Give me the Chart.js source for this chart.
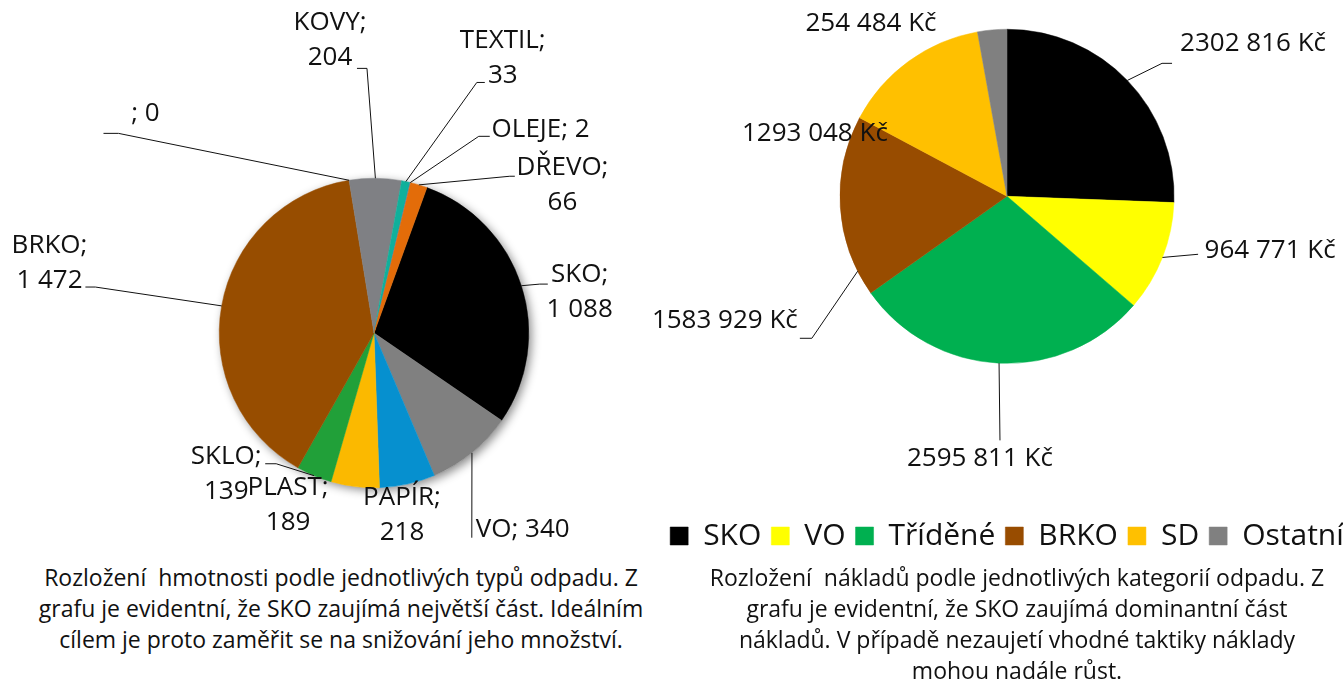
<!DOCTYPE html>
<html>
<head>
<meta charset="utf-8">
<script src="https://cdn.jsdelivr.net/npm/chart.js@4.4.0/dist/chart.umd.min.js"></script>
<style>
body { margin: 0; background: #fff; width: 1343px; height: 684px; position: relative; overflow: hidden; font-family: "Open Sans", sans-serif; }
#type-graph { position: absolute; left: 0; top: 0; }
#cost-graph { position: absolute; left: 640px; top: 0; }
.caption { position: absolute; top: 562px; white-space: pre; text-align: center; font-size: 23px; line-height: 31px; color: #111; }
</style>
</head>
<body>
<canvas id="type-graph" width="660" height="560"></canvas>
<canvas id="cost-graph" width="734" height="561"></canvas>
<div class="caption" style="left:11px; width:660px;">Rozložení  hmotnosti podle jednotlivých typů odpadu. Z
grafu je evidentní, že SKO zaujímá největší část. Ideálním
cílem je proto zaměřit se na snižování jeho množství.</div>
<div class="caption" style="left:677px; width:680px;">Rozložení  nákladů podle jednotlivých kategorií odpadu. Z
grafu je evidentní, že SKO zaujímá dominantní část
nákladů. V případě nezaujetí vhodné taktiky náklady
mohou nadále růst.</div>
<script>
// hmotnost podle typu odpadu
var typeLabels = ['SKO', 'VO', 'PAPÍR', 'PLAST', 'SKLO', 'BRKO', '', 'KOVY', 'TEXTIL', 'OLEJE', 'DŘEVO'];
var typeWeights = [1088, 340, 218, 189, 139, 1472, 0, 204, 33, 2, 66];
var typeColors = ['#000000', '#808080', '#0690cf', '#fbb900', '#21a039', '#974d00', '#cccccc', '#7f8084', '#10b09b', '#4f81bd', '#e36c09'];

// naklady podle kategorie
var costLabels = ['SKO', 'VO', 'Tříděné', 'BRKO', 'SD', 'Ostatní'];
var costValues = [2302816, 964771, 2595811, 1583929, 1293048, 254484];
var costColors = ['#000000', '#ffff00', '#00b050', '#984c00', '#ffc000', '#808080'];

// label placement in pie radii from centre: [x, y, lines, leader end x, leader end y, tail px, leader turn deg]
var typeLabelPlace = [
	[1.329, -0.265, 2, 1.123, -0.316, -8, 0],
	[0.961, 1.271, 1, 0.632, 1.323, 0, 0],
	[0.181, 1.174, 2],
	[-0.555, 1.110, 2],
	[-0.955, 0.910, 2, -0.703, 0.845, 11, 0],
	[-2.097, -0.452, 2, -1.865, -0.297, 10, 0],
	[-1.477, -1.419, 1, -1.748, -1.290, 15, 0],
	[-0.284, -1.890, 2, -0.110, -1.710, 10, 0],
	[0.832, -1.774, 2, 0.716, -1.619, -8, 0],
	[1.077, -1.316, 1, 0.748, -1.271, -11, 0],
	[1.218, -0.955, 2, 0.910, -1.013, -5, 0]
];
var costLabelPlace = [
	[1.473, -0.916, 1, 0.988, -0.796, -10, 0],
	[1.575, 0.323, 1, 1.144, 0.347, 0, 0],
	[-0.162, 1.569, 1, -0.042, 1.461, 0, 0],
	[-1.689, 0.743, 1, -1.240, 0.850, 12, -23],
	[-1.150, -0.377, 1],
	[-0.814, -1.036, 1]
];

Chart.defaults.font.family = '"Open Sans", sans-serif';
Chart.defaults.color = '#111';

function groupNumber(v)
{
	return String(v).replace(/\B(?=(\d{3})+(?!\d))/g, ' ');
}

function costText(v)
{
	// format ze zdroje: jen posledni trojice oddelena
	var rest = String(v % 1000);
	while (rest.length < 3) rest = '0' + rest;
	return Math.floor(v / 1000) + ' ' + rest + ' Kč';
}

function makeLabelPlugin(texts, place, shadow)
{
	return {
		id: 'sliceLabels',
		beforeDatasetsDraw: function(chart) {
			if (!shadow) return;
			var p = chart.getDatasetMeta(0).data[0].getProps(['x', 'y', 'outerRadius'], true);
			var ctx = chart.ctx;
			ctx.save();
			ctx.shadowColor = 'rgba(0,0,0,0.45)';
			ctx.shadowBlur = 10;
			ctx.shadowOffsetX = 3;
			ctx.shadowOffsetY = 3;
			ctx.fillStyle = '#ffffff';
			ctx.beginPath();
			ctx.arc(p.x, p.y, p.outerRadius, 0, Math.PI * 2);
			ctx.fill();
			ctx.restore();
		},
		afterDatasetsDraw: function(chart) {
			var ctx = chart.ctx;
			ctx.save();
			ctx.font = '26px "Open Sans"';
			ctx.fillStyle = '#111';
			ctx.strokeStyle = '#111';
			ctx.lineWidth = 1;
			ctx.textAlign = 'center';
			ctx.textBaseline = 'middle';
			chart.getDatasetMeta(0).data.forEach(function(arc, i) {
				var p = arc.getProps(['x', 'y', 'startAngle', 'endAngle', 'outerRadius'], true);
				var r = p.outerRadius;
				var pl = place[i];
				if (pl.length > 3) {
					var mid = (p.startAngle + p.endAngle) / 2 + pl[6] * Math.PI / 180;
					var ex = p.x + pl[3] * r;
					var ey = p.y + pl[4] * r;
					ctx.beginPath();
					ctx.moveTo(ex, ey);
					ctx.lineTo(ex + pl[5], ey);
					ctx.lineTo(p.x + Math.cos(mid) * r, p.y + Math.sin(mid) * r);
					ctx.stroke();
				}
				var lines = texts[i];
				var lx = p.x + pl[0] * r;
				var ly = p.y + pl[1] * r - (lines.length - 1) * 17.5;
				lines.forEach(function(t, k) {
					ctx.fillText(t, lx, ly + k * 35);
				});
			});
			ctx.restore();
		}
	};
}

var typeTexts = typeLabels.map(function(name, i) {
	if (typeLabelPlace[i][2] == 2) return [name + ';', groupNumber(typeWeights[i])];
	return [name + '; ' + groupNumber(typeWeights[i])];
});
var costTexts = costValues.map(function(v) { return [costText(v)]; });

new Chart(document.getElementById('type-graph').getContext('2d'), {
	type: 'pie',
	data: {
		labels: typeLabels,
		datasets: [{
			data: typeWeights,
			backgroundColor: typeColors,
			borderColor: typeColors,
			borderWidth: 0.5
		}]
	},
	options: {
		responsive: false,
		animation: false,
		rotation: 20,
		layout: { padding: { left: 88, right: 0, top: 178, bottom: 72 } },
		plugins: {
			legend: { display: false },
			tooltip: { enabled: false }
		}
	},
	plugins: [makeLabelPlugin(typeTexts, typeLabelPlace, true)]
});

new Chart(document.getElementById('cost-graph').getContext('2d'), {
	type: 'pie',
	data: {
		labels: costLabels,
		datasets: [{
			data: costValues,
			backgroundColor: costColors,
			borderColor: costColors,
			borderWidth: 0.5
		}]
	},
	options: {
		responsive: false,
		animation: false,
		layout: { padding: { left: 0, right: 0, top: 29, bottom: 0 } },
		plugins: {
			legend: {
				position: 'bottom',
				title: { display: true, text: '', padding: { top: 133, bottom: 0 } },
				labels: {
					font: { size: 30 },
					color: '#111',
					boxWidth: 18,
					boxHeight: 18,
					padding: 10
				}
			},
			tooltip: { enabled: false }
		}
	},
	plugins: [makeLabelPlugin(costTexts, costLabelPlace, false)]
});
</script>
</body>
</html>
